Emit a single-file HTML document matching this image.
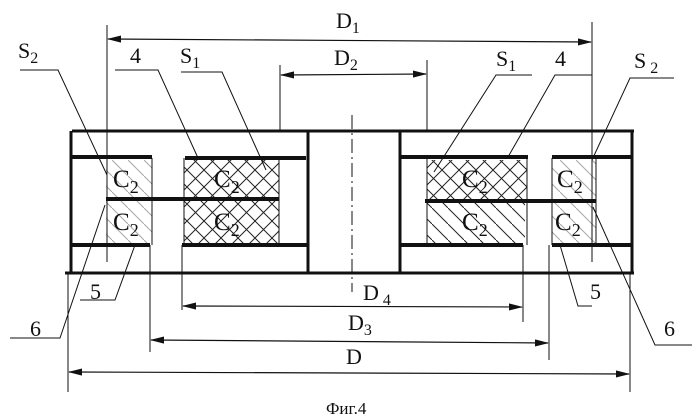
<!DOCTYPE html><html><head><meta charset="utf-8"><style>body{margin:0;background:#fff}svg{display:block}text{font-family:"Liberation Serif",serif;fill:#111}</style></head><body>
<svg width="698" height="420" viewBox="0 0 698 420" xmlns="http://www.w3.org/2000/svg">
<defs>
<pattern id="x" width="17" height="17" patternUnits="userSpaceOnUse"><path d="M0 0L17 17M17 0L0 17" stroke="#222" stroke-width="1"/></pattern>
<pattern id="d" width="16" height="16" patternUnits="userSpaceOnUse"><path d="M0 0L16 16" stroke="#222" stroke-width="1"/></pattern>
<marker id="a" markerWidth="12" markerHeight="6" refX="11" refY="3" orient="auto-start-reverse"><path d="M0 0L12 3L0 6z" fill="#111"/></marker>
</defs>
<g stroke="#111" fill="none">
<rect x="106" y="160" width="46" height="85" fill="url(#d)" stroke="none" opacity="0.4"/>
<rect x="184" y="160" width="95" height="85" fill="url(#x)" stroke="none"/>
<rect x="427" y="160" width="100" height="40" fill="url(#x)" stroke="none"/>
<rect x="427" y="202" width="98" height="43" fill="url(#d)" stroke="none"/>
<rect x="552" y="160" width="44" height="85" fill="url(#d)" stroke="none" opacity="0.4"/>
<line x1="152" y1="158" x2="152" y2="245" stroke-width="1"/>
<line x1="184" y1="158" x2="184" y2="245" stroke-width="1"/>
<line x1="279" y1="158" x2="279" y2="245" stroke-width="1"/>
<line x1="427" y1="158" x2="427" y2="245" stroke-width="1"/>
<line x1="527" y1="158" x2="527" y2="245" stroke-width="1"/>
<line x1="552" y1="158" x2="552" y2="245" stroke-width="1"/>
<line x1="596" y1="158" x2="596" y2="245" stroke-width="1"/>
<line x1="72" y1="131" x2="634" y2="131" stroke-width="3"/>
<line x1="65" y1="273" x2="634" y2="273" stroke-width="3"/>
<line x1="71" y1="131" x2="71" y2="273" stroke-width="3"/>
<line x1="632" y1="131" x2="632" y2="273" stroke-width="3"/>
<line x1="308" y1="131" x2="308" y2="273" stroke-width="3"/>
<line x1="400" y1="131" x2="400" y2="273" stroke-width="3"/>
<g stroke-width="4">
<line x1="71" y1="157" x2="152" y2="157"/><line x1="71" y1="245" x2="150" y2="245"/>
<line x1="106" y1="199" x2="279" y2="199"/>
<line x1="185" y1="158" x2="306" y2="158"/><line x1="182" y1="245" x2="308" y2="245"/>
<line x1="400" y1="157" x2="528" y2="157"/><line x1="425" y1="201" x2="596" y2="201"/>
<line x1="400" y1="245" x2="523" y2="245"/>
<line x1="552" y1="157" x2="632" y2="157"/><line x1="552" y1="245" x2="632" y2="245"/>
</g>
<g stroke-width="1">
<line x1="107" y1="25" x2="107" y2="262"/><line x1="592" y1="22" x2="592" y2="262"/>
<line x1="280" y1="65" x2="280" y2="131"/><line x1="427" y1="60" x2="427" y2="131"/>
<line x1="182" y1="245" x2="182" y2="310"/><line x1="523" y1="245" x2="523" y2="322"/>
<line x1="150" y1="245" x2="150" y2="352"/><line x1="549" y1="245" x2="549" y2="360"/>
<line x1="68" y1="273" x2="68" y2="392"/><line x1="630" y1="273" x2="630" y2="392"/>
<line x1="352" y1="115" x2="352" y2="292" stroke-dasharray="14 4 2 4"/>
</g>
<g stroke-width="1.2" marker-start="url(#a)" marker-end="url(#a)">
<line x1="108" y1="39" x2="591" y2="42"/>
<line x1="281" y1="75" x2="426" y2="74"/>
<line x1="183" y1="306" x2="522" y2="307"/>
<line x1="151" y1="340" x2="548" y2="343"/>
<line x1="69" y1="372" x2="629" y2="374"/>
</g>
<g stroke-width="1">
<polyline points="20,70 58,70 107,175"/>
<polyline points="115,70 158,70 198,158"/>
<polyline points="181,72 222,72 266,170"/>
<polyline points="532,75 496,75 434,172"/>
<polyline points="592,75 555,75 508,157"/>
<polyline points="674,78 630,78 592,160"/>
<polyline points="80,300 115,300 135,245"/>
<polyline points="10,338 60,338 105,205"/>
<polyline points="592,306 578,306 560,245"/>
<polyline points="692,345 655,345 593,207"/>
</g>
</g>
<g font-size="22">
<text x="336" y="28">D<tspan font-size="16" dy="5">1</tspan></text>
<text x="334" y="65">D<tspan font-size="16" dy="5">2</tspan></text>
<text x="363" y="300">D<tspan font-size="16" dy="5"> 4</tspan></text>
<text x="348" y="330">D<tspan font-size="16" dy="5">3</tspan></text>
<text x="346" y="364">D</text>
<text x="18" y="58">S<tspan font-size="16" dy="5">2</tspan></text>
<text x="130" y="63">4</text>
<text x="180" y="63">S<tspan font-size="16" dy="5">1</tspan></text>
<text x="496" y="66">S<tspan font-size="16" dy="5">1</tspan></text>
<text x="555" y="66">4</text>
<text x="634" y="68">S<tspan font-size="16" dy="5"> 2</tspan></text>
<text x="90" y="299">5</text>
<text x="30" y="336">6</text>
<text x="590" y="299">5</text>
<text x="664" y="336">6</text>
<g font-size="25">
<text x="113" y="187">C<tspan font-size="18" dy="6">2</tspan></text>
<text x="113" y="230">C<tspan font-size="18" dy="6">2</tspan></text>
<text x="214" y="187">C<tspan font-size="18" dy="6">2</tspan></text>
<text x="214" y="230">C<tspan font-size="18" dy="6">2</tspan></text>
<text x="462" y="187">C<tspan font-size="18" dy="6">2</tspan></text>
<text x="462" y="230">C<tspan font-size="18" dy="6">2</tspan></text>
<text x="557" y="187">C<tspan font-size="18" dy="6">2</tspan></text>
<text x="555" y="230">C<tspan font-size="18" dy="6">2</tspan></text>
</g>
<text x="326" y="414" font-size="17">Фиг.4</text>
</g>
</svg></body></html>
